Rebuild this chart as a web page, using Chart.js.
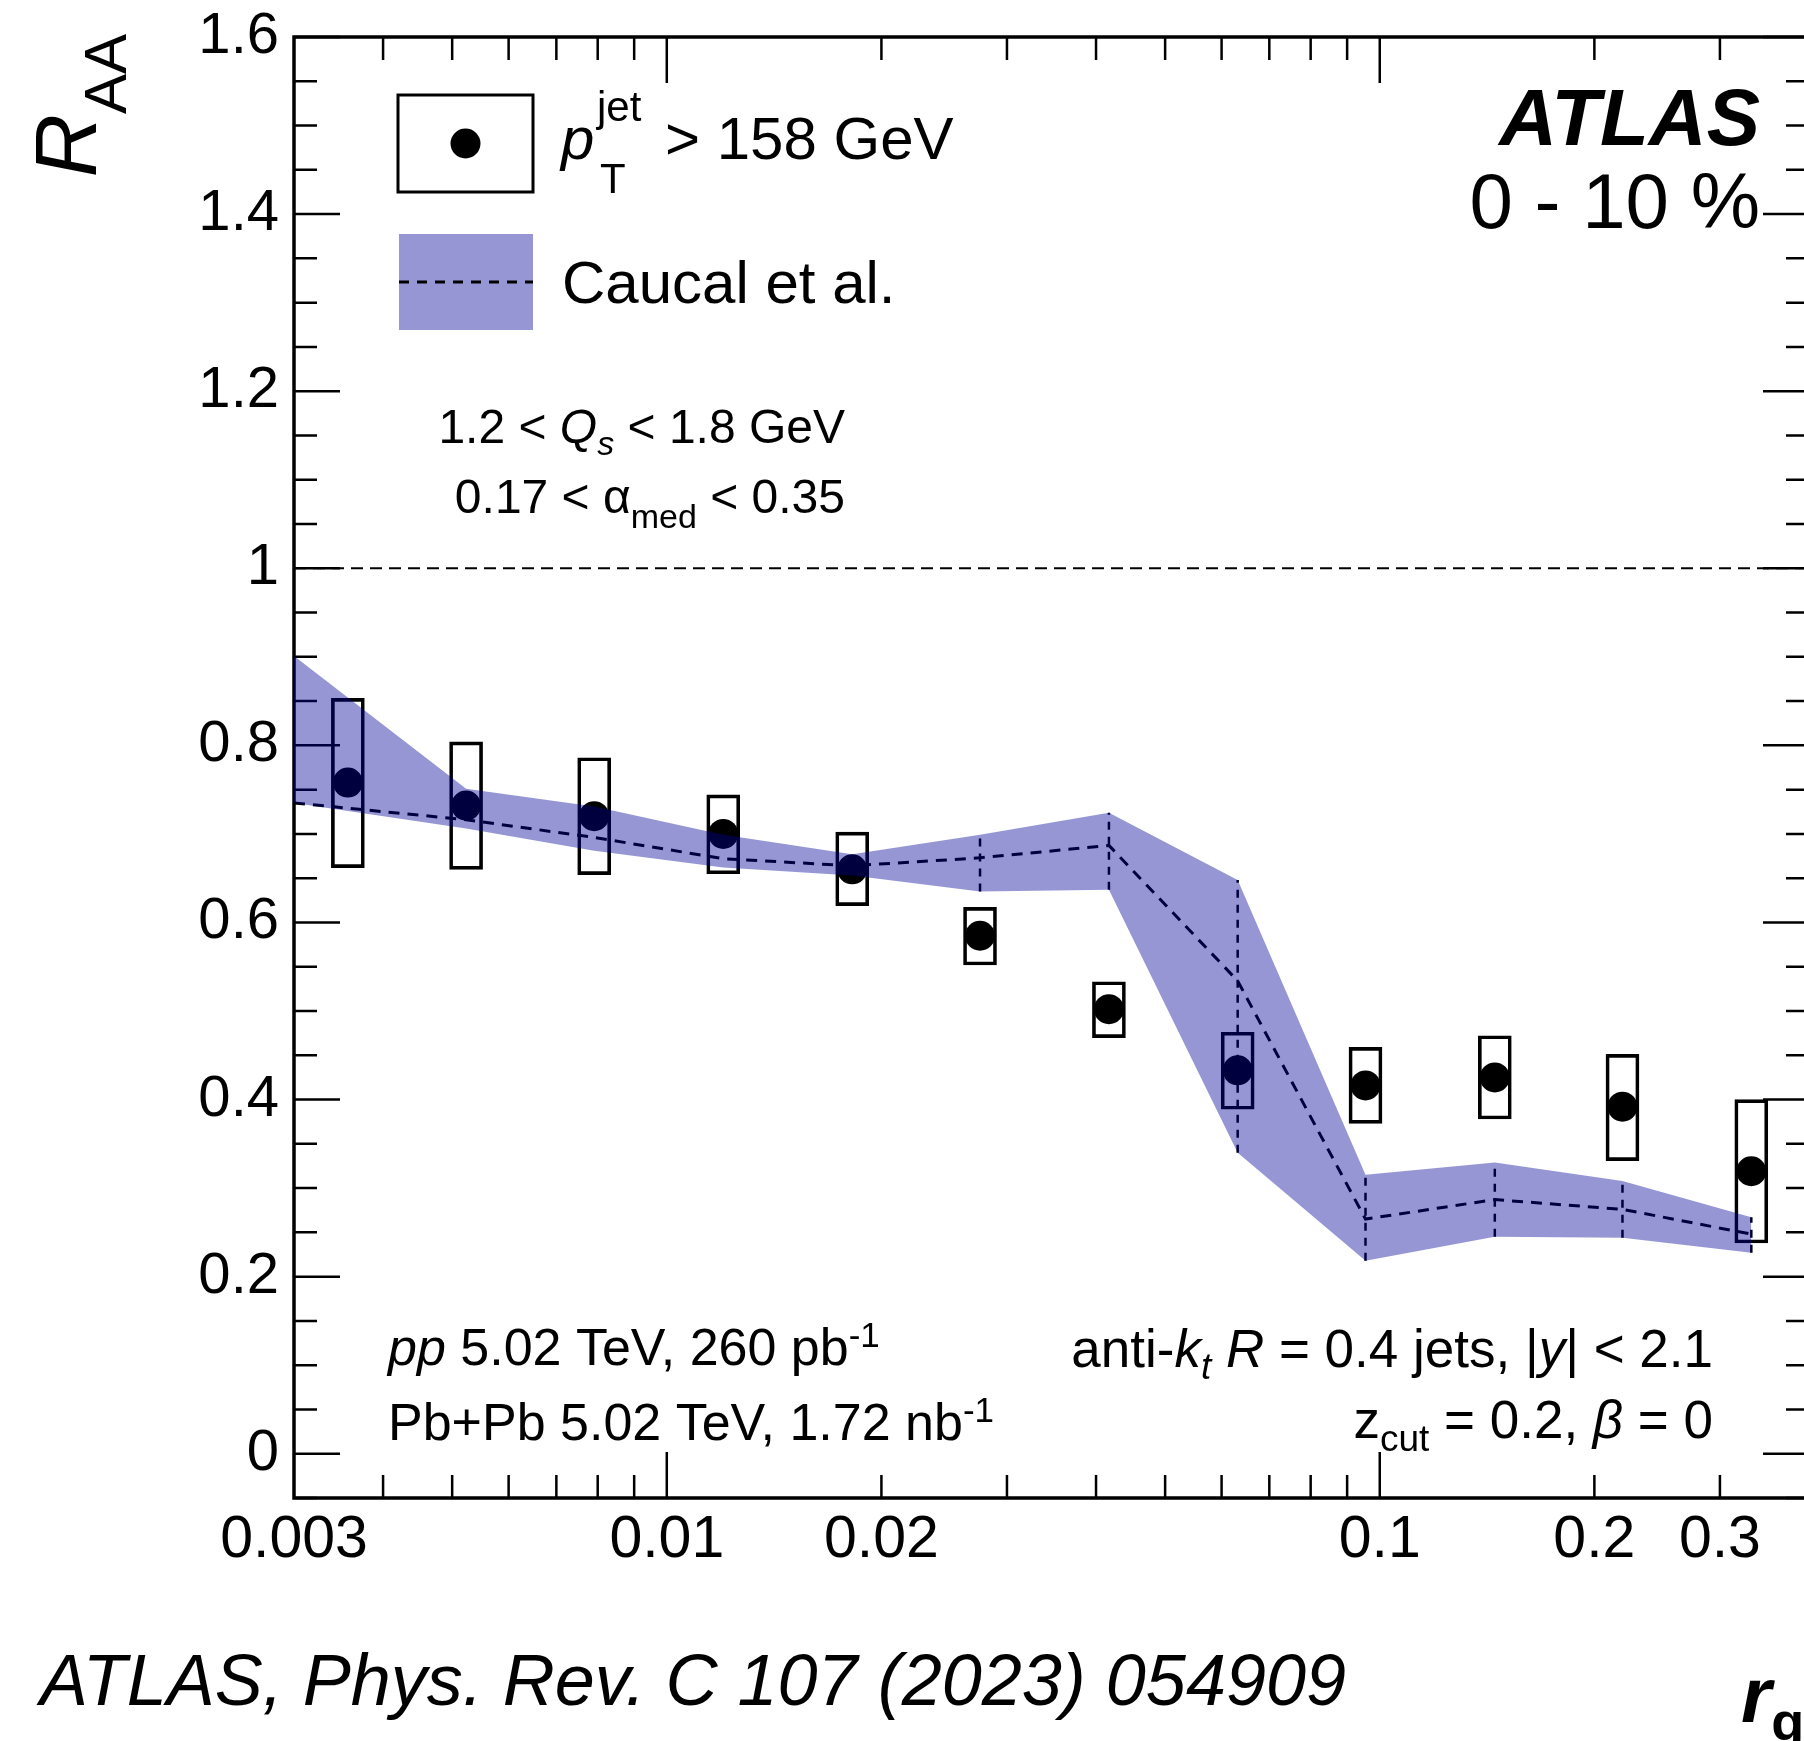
<!DOCTYPE html>
<html>
<head>
<meta charset="utf-8">
<title>ATLAS R_AA vs r_g</title>
<script src="https://cdn.jsdelivr.net/npm/chart.js@4.4.1/dist/chart.umd.min.js"></script>
<style>
  html, body { margin: 0; padding: 0; background: #fff; }
  #wrap { width: 1804px; height: 1741px; overflow: hidden; position: relative; }
  canvas { display: block; }
</style>
</head>
<body>
<div id="wrap"><canvas id="raaChart" width="1830" height="1741"></canvas></div>
<script>
// ATLAS data, 0-10 %, pT jet > 158 GeV
const rgValues   = [0.00357, 0.00523, 0.00791, 0.0120, 0.0182, 0.0275, 0.0417, 0.0632, 0.0955, 0.145, 0.219, 0.332];
const raaValues  = [0.758, 0.732, 0.720, 0.700, 0.660, 0.585, 0.502, 0.433, 0.416, 0.425, 0.392, 0.319];
const raaSysLow  = [0.662, 0.660, 0.654, 0.655, 0.619, 0.552, 0.470, 0.389, 0.373, 0.378, 0.331, 0.238];
const raaSysHigh = [0.853, 0.804, 0.786, 0.744, 0.702, 0.617, 0.533, 0.476, 0.459, 0.472, 0.451, 0.400];

// Caucal et al. band
const theoryX    = [0.003, 0.00523, 0.00791, 0.0120, 0.0182, 0.0275, 0.0417, 0.0632, 0.0955, 0.145, 0.219, 0.332];
const theoryMid  = [0.735, 0.716, 0.696, 0.672, 0.664, 0.673, 0.687, 0.534, 0.265, 0.287, 0.276, 0.248];
const theoryLow  = [0.735, 0.706, 0.681, 0.662, 0.653, 0.635, 0.637, 0.340, 0.218, 0.245, 0.244, 0.227];
const theoryHigh = [0.901, 0.751, 0.731, 0.699, 0.677, 0.699, 0.724, 0.648, 0.315, 0.329, 0.308, 0.267];
const theoryErrFrom = 5; // vertical dashed error lines only visible from here on

// reference line at R_AA = 1
const refX = [0.003, 0.4];
const refY = [1, 1];

// axes
const xTickValues = [0.003, 0.01, 0.02, 0.1, 0.2, 0.3];
const xTickLabels = ['0.003', '0.01', '0.02', '0.1', '0.2', '0.3'];
const xMajorTicks = [0.01, 0.1];
const xMinorTicks = [0.004, 0.005, 0.006, 0.007, 0.008, 0.009, 0.02, 0.03, 0.04, 0.05, 0.06, 0.07, 0.08, 0.09, 0.2, 0.3];
const yTickValues = [0, 0.2, 0.4, 0.6, 0.8, 1, 1.2, 1.4, 1.6];
const yTickLabels = ['0', '0.2', '0.4', '0.6', '0.8', '1', '1.2', '1.4', '1.6'];

const FONT = "'Liberation Sans', Arial, Helvetica, sans-serif";
const bandColor = 'rgba(0, 0, 154, 0.41)';

const xy = (xs, ys) => xs.map((x, i) => ({ x: x, y: ys[i] }));

// vertical dashed error lines of the theory, separated by gaps
const theoryErr = [];
theoryX.forEach((x, i) => {
    if (i < theoryErrFrom) return;
    theoryErr.push({ x: x, y: theoryLow[i] }, { x: x, y: theoryHigh[i] }, { x: x, y: null });
});

function drawRich(ctx, x, y, parts, align) {
    let total = 0;
    parts.forEach(p => { ctx.font = p[1]; total += ctx.measureText(p[0]).width; });
    let cx = align === 'right' ? x - total : x;
    parts.forEach(p => {
        ctx.font = p[1];
        ctx.fillText(p[0], cx, y + (p[2] || 0));
        cx += ctx.measureText(p[0]).width;
    });
}

// frame and inward ticks (ROOT style)
const framePlugin = {
    id: 'frame',
    beforeDatasetsDraw(chart) {
        const ctx = chart.ctx;
        const { left, right, top, bottom } = chart.chartArea;
        const xs = chart.scales.x, ys = chart.scales.y;
        ctx.save();
        ctx.strokeStyle = '#000';
        ctx.lineWidth = 2.5;
        ctx.beginPath();
        xMajorTicks.concat(xMinorTicks).forEach(v => {
            const len = xMajorTicks.includes(v) ? 46 : 23;
            const px = xs.getPixelForValue(v);
            ctx.moveTo(px, bottom); ctx.lineTo(px, bottom - len);
            ctx.moveTo(px, top); ctx.lineTo(px, top + len);
        });
        for (let k = -1; k <= 32; k++) {
            const v = k * 0.05;
            const len = (k % 4 === 0) ? 46 : 23;
            const py = ys.getPixelForValue(v);
            ctx.moveTo(left, py); ctx.lineTo(left + len, py);
            ctx.moveTo(right, py); ctx.lineTo(right - len, py);
        }
        ctx.stroke();
        ctx.lineWidth = 3.5;
        ctx.strokeRect(left, top, right - left, bottom - top);
        ctx.restore();
    },
    afterDraw(chart) {
        const ctx = chart.ctx;
        ctx.save();
        ctx.fillStyle = '#000';
        ctx.textBaseline = 'alphabetic';
        ctx.textAlign = 'left';

        // legend: data
        ctx.strokeStyle = '#000';
        ctx.lineWidth = 3;
        ctx.strokeRect(398, 95, 135, 97);
        ctx.beginPath();
        ctx.arc(465.5, 143.5, 15, 0, Math.PI * 2);
        ctx.fill();
        ctx.font = `italic 60px ${FONT}`;
        ctx.fillText('p', 561, 159);
        ctx.font = `42px ${FONT}`;
        ctx.fillText('jet', 597, 121);
        ctx.fillText('T', 600, 193);
        ctx.font = `60px ${FONT}`;
        ctx.fillText('> 158 GeV', 665, 159);

        // legend: theory
        ctx.fillStyle = bandColor;
        ctx.fillRect(399, 234, 134, 96);
        ctx.fillStyle = '#000';
        ctx.setLineDash([10, 8]);
        ctx.lineWidth = 3;
        ctx.beginPath();
        ctx.moveTo(399, 282); ctx.lineTo(533, 282);
        ctx.stroke();
        ctx.setLineDash([]);
        ctx.font = `60px ${FONT}`;
        ctx.fillText('Caucal et al.', 562, 303);

        // model parameters
        drawRich(ctx, 845, 443, [
            ['1.2 < ', `48px ${FONT}`],
            ['Q', `italic 48px ${FONT}`],
            ['s', `italic 34px ${FONT}`, 12],
            [' < 1.8 GeV', `48px ${FONT}`]
        ], 'right');
        drawRich(ctx, 845, 513, [
            ['0.17 < ', `48px ${FONT}`],
            ['\u03b1', `48px ${FONT}`],
            ['med', `34px ${FONT}`, 15],
            [' < 0.35', `48px ${FONT}`]
        ], 'right');

        // ATLAS label
        drawRich(ctx, 1760, 145, [['ATLAS', `italic bold 80px ${FONT}`]], 'right');
        drawRich(ctx, 1760, 228, [['0 - 10 %', `78px ${FONT}`]], 'right');

        // luminosity
        drawRich(ctx, 388, 1365, [
            ['pp', `italic 52px ${FONT}`],
            [' 5.02 TeV, 260 pb', `52px ${FONT}`],
            ['-1', `35px ${FONT}`, -18]
        ], 'left');
        drawRich(ctx, 388, 1440, [
            ['Pb+Pb 5.02 TeV, 1.72 nb', `52px ${FONT}`],
            ['-1', `35px ${FONT}`, -18]
        ], 'left');

        // jet selection
        drawRich(ctx, 1713, 1367, [
            ['anti-', `53px ${FONT}`],
            ['k', `italic 53px ${FONT}`],
            ['t', `italic 37px ${FONT}`, 12],
            [' ', `53px ${FONT}`],
            ['R', `italic 53px ${FONT}`],
            [' = 0.4 jets, |', `53px ${FONT}`],
            ['y', `italic 53px ${FONT}`],
            ['| < 2.1', `53px ${FONT}`]
        ], 'right');
        drawRich(ctx, 1713, 1438, [
            ['z', `53px ${FONT}`],
            ['cut', `37px ${FONT}`, 13],
            [' = 0.2, ', `53px ${FONT}`],
            ['\u03b2', `italic 53px ${FONT}`],
            [' = 0', `53px ${FONT}`]
        ], 'right');

        // y axis title
        ctx.save();
        ctx.translate(96, 34);
        ctx.rotate(-Math.PI / 2);
        drawRich(ctx, 0, 0, [
            ['R', `italic 88px ${FONT}`],
            ['AA', `60px ${FONT}`, 30]
        ], 'right');
        ctx.restore();

        // x axis title (cut at the page edge)
        drawRich(ctx, 1741, 1722, [
            ['r', `italic bold 78px ${FONT}`],
            ['g', `bold 54px ${FONT}`, 18]
        ], 'left');

        // reference
        ctx.font = `italic 72px ${FONT}`;
        ctx.fillText('ATLAS, Phys. Rev. C 107 (2023) 054909', 40, 1705);
        ctx.restore();
    }
};

const ctx = document.getElementById('raaChart').getContext('2d');
const raaChart = new Chart(ctx, {
    type: 'scatter',
    data: {
        datasets: [
            {
                type: 'line', label: 'unity', data: xy(refX, refY),
                borderColor: '#000', borderWidth: 2, borderDash: [12, 7], pointRadius: 0, order: 10
            },
            {
                type: 'bar', label: 'sys', grouped: false,
                data: rgValues.map((x, i) => ({ x: x, y: [raaSysLow[i], raaSysHigh[i]] })),
                backgroundColor: 'rgba(0,0,0,0)', borderColor: '#000', borderWidth: 3,
                borderSkipped: false, barThickness: 33, order: 9
            },
            {
                type: 'scatter', label: 'ATLAS', data: xy(rgValues, raaValues),
                pointRadius: 15, pointBackgroundColor: '#000', pointBorderWidth: 0, order: 8
            },
            {
                type: 'line', label: 'theory err', data: theoryErr, spanGaps: false,
                borderColor: '#000', borderWidth: 2.5, borderDash: [8, 7], pointRadius: 0, order: 7
            },
            {
                type: 'line', label: 'Caucal et al.', data: xy(theoryX, theoryMid),
                borderColor: '#000', borderWidth: 3, borderDash: [11, 8], pointRadius: 0, order: 6
            },
            {
                type: 'line', label: 'theory low', data: xy(theoryX, theoryLow),
                borderColor: 'rgba(0,0,0,0)', borderWidth: 0, pointRadius: 0, fill: false, order: 5
            },
            {
                type: 'line', label: 'theory high', data: xy(theoryX, theoryHigh),
                borderColor: 'rgba(0,0,0,0)', borderWidth: 0, pointRadius: 0,
                backgroundColor: bandColor, fill: '-1', order: 1
            }
        ]
    },
    options: {
        responsive: false,
        animation: false,
        devicePixelRatio: 1,
        events: [],
        layout: { padding: { left: 0, top: 37, right: 21, bottom: 0 } },
        plugins: { legend: { display: false }, tooltip: { enabled: false } },
        scales: {
            x: {
                type: 'logarithmic', min: 0.003, max: 0.4, offset: false,
                grid: { display: false, drawTicks: false },
                border: { display: false },
                afterBuildTicks: s => { s.ticks = xTickValues.map(v => ({ value: v })); },
                afterFit: s => { s.height = 243; s.paddingLeft = 0; s.paddingRight = 0; },
                ticks: {
                    autoSkip: false, maxRotation: 0, minRotation: 0, padding: 7,
                    color: '#000', font: { family: FONT, size: 59 },
                    callback: (v, i) => xTickLabels[i]
                }
            },
            y: {
                type: 'linear', min: -0.05, max: 1.6,
                grid: { display: false, drawTicks: false },
                border: { display: false },
                afterBuildTicks: s => { s.ticks = yTickValues.map(v => ({ value: v })); },
                afterFit: s => { s.width = 294; s.paddingTop = 0; s.paddingBottom = 0; },
                ticks: {
                    padding: 15, color: '#000', font: { family: FONT, size: 58 },
                    callback: (v, i) => yTickLabels[i]
                }
            }
        }
    },
    plugins: [framePlugin]
});
</script>
</body>
</html>
